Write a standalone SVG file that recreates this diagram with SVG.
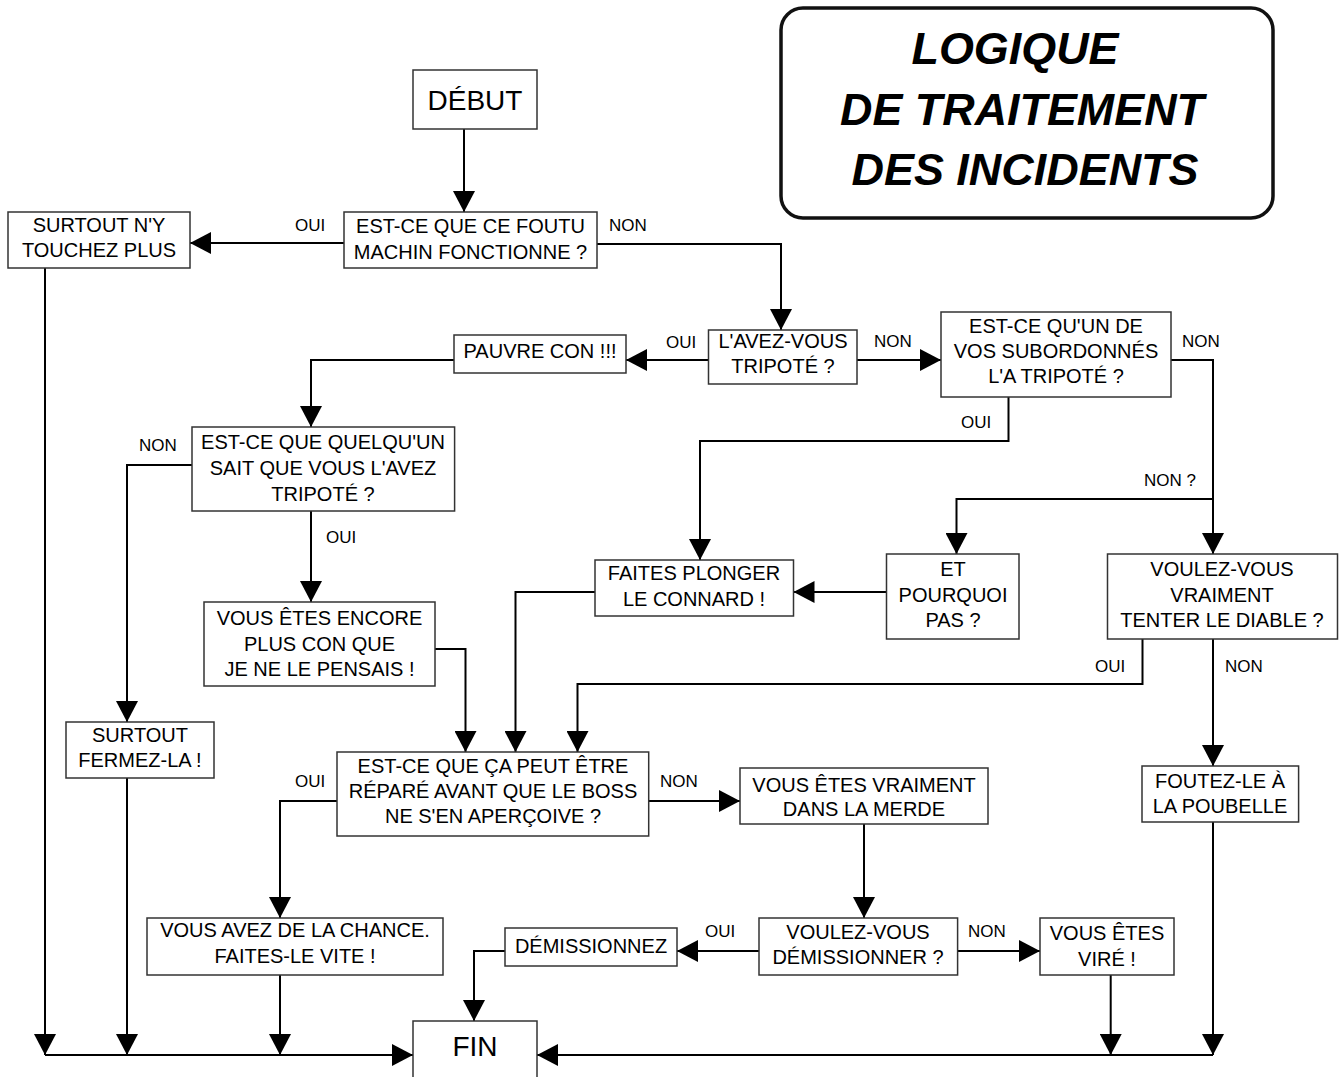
<svg xmlns="http://www.w3.org/2000/svg" width="1342" height="1077" viewBox="0 0 1342 1077">
<style>
text{font-family:"Liberation Sans",Arial,sans-serif;fill:#000}
.n{font-size:20px;text-anchor:middle}
.big{font-size:28px;text-anchor:middle}
.lb{font-size:17px}
.t{font-size:44px;font-weight:bold;font-style:italic;text-anchor:middle}
rect.b{fill:#fff;stroke:#333;stroke-width:1.5}
.c path{fill:none;stroke:#000;stroke-width:2;marker-end:url(#ah)}
</style>
<defs>
<marker id="ah" markerUnits="userSpaceOnUse" markerWidth="22" markerHeight="22" refX="21" refY="11" orient="auto">
<path d="M0,0 L21,11 L0,22 z" fill="#000"/>
</marker>
</defs>
<rect width="1342" height="1077" fill="#fff"/>

<g id="title">
<rect x="781" y="8" width="492" height="210" rx="22" ry="22" fill="#fff" stroke="#111" stroke-width="3.5"/>
<text class="t" x="1015" y="64" textLength="207" lengthAdjust="spacingAndGlyphs">LOGIQUE</text>
<text class="t" x="1022" y="125" textLength="364" lengthAdjust="spacingAndGlyphs">DE TRAITEMENT</text>
<text class="t" x="1025" y="185" textLength="347" lengthAdjust="spacingAndGlyphs">DES INCIDENTS</text>
</g>

<g class="c" id="connectors">
<path d="M464,129 V212"/>
<path d="M344,243 H190"/>
<path d="M597,244 H781 V330"/>
<path d="M708.5,360 H626"/>
<path d="M857,360 H941"/>
<path d="M454,360 H311 V427"/>
<path d="M1171,360 H1213 V554"/>
<path d="M1213,499 H956.5 V554"/>
<path d="M1008.5,397 V441 H700 V560"/>
<path d="M886.5,592 H793.5"/>
<path d="M595,592 H515.5 V752"/>
<path d="M435,649 H465.5 V752"/>
<path d="M1142.5,639 V684 H577.5 V752"/>
<path d="M1213,639 V766"/>
<path d="M192,465 H127 V722"/>
<path d="M311,511 V602"/>
<path d="M337,801 H280 V918"/>
<path d="M648.7,801 H740"/>
<path d="M864,824 V918"/>
<path d="M759,951 H677"/>
<path d="M957.6,951 H1040"/>
<path d="M505,951 H474 V1021"/>
<path d="M45,268 V1055"/>
<path d="M127,778 V1055"/>
<path d="M280,975 V1055"/>
<path d="M45,1055 H413"/>
<path d="M1110.7,975 V1055"/>
<path d="M1213,822 V1055"/>
<path d="M1213,1055 H537"/>
</g>

<g id="labels">
<text class="lb" x="295" y="231">OUI</text>
<text class="lb" x="609" y="231">NON</text>
<text class="lb" x="666" y="348">OUI</text>
<text class="lb" x="874" y="347">NON</text>
<text class="lb" x="1182" y="347">NON</text>
<text class="lb" x="961" y="428">OUI</text>
<text class="lb" x="1144" y="486">NON ?</text>
<text class="lb" x="139" y="451">NON</text>
<text class="lb" x="326" y="543">OUI</text>
<text class="lb" x="1095" y="672">OUI</text>
<text class="lb" x="1225" y="672">NON</text>
<text class="lb" x="295" y="787">OUI</text>
<text class="lb" x="660" y="787">NON</text>
<text class="lb" x="705" y="937">OUI</text>
<text class="lb" x="968" y="937">NON</text>
</g>

<g id="debut">
<rect class="b" x="413" y="70" width="124" height="59"/>
<text class="big" x="475" y="110">DÉBUT</text>
</g>
<g id="q_fonctionne">
<rect class="b" x="344" y="212" width="253" height="56"/>
<text class="n" x="470.5" y="233">EST-CE QUE CE FOUTU</text>
<text class="n" x="470.5" y="259">MACHIN FONCTIONNE ?</text>
</g>
<g id="surtout_ny">
<rect class="b" x="8" y="212" width="182" height="56"/>
<text class="n" x="99" y="232">SURTOUT N'Y</text>
<text class="n" x="99" y="257">TOUCHEZ PLUS</text>
</g>
<g id="pauvre_con">
<rect class="b" x="454" y="335" width="172" height="38"/>
<text class="n" x="540" y="358">PAUVRE CON !!!</text>
</g>
<g id="q_tripote">
<rect class="b" x="708.5" y="330" width="148.5" height="54"/>
<text class="n" x="783" y="348">L'AVEZ-VOUS</text>
<text class="n" x="783" y="373">TRIPOTÉ ?</text>
</g>
<g id="q_subordonnes">
<rect class="b" x="941" y="312" width="230" height="85"/>
<text class="n" x="1056" y="333">EST-CE QU'UN DE</text>
<text class="n" x="1056" y="358">VOS SUBORDONNÉS</text>
<text class="n" x="1056" y="383">L'A TRIPOTÉ ?</text>
</g>
<g id="q_quelquun">
<rect class="b" x="192" y="427" width="262.6" height="84"/>
<text class="n" x="323" y="449">EST-CE QUE QUELQU'UN</text>
<text class="n" x="323" y="475">SAIT QUE VOUS L'AVEZ</text>
<text class="n" x="323" y="501">TRIPOTÉ ?</text>
</g>
<g id="encore_plus_con">
<rect class="b" x="204" y="602" width="231" height="84"/>
<text class="n" x="319.5" y="625">VOUS ÊTES ENCORE</text>
<text class="n" x="319.5" y="651">PLUS CON QUE</text>
<text class="n" x="319.5" y="676">JE NE LE PENSAIS !</text>
</g>
<g id="faites_plonger">
<rect class="b" x="595" y="560" width="198.5" height="56"/>
<text class="n" x="694" y="580">FAITES PLONGER</text>
<text class="n" x="694" y="606">LE CONNARD !</text>
</g>
<g id="et_pourquoi">
<rect class="b" x="886.5" y="554" width="132.5" height="85"/>
<text class="n" x="953" y="576">ET</text>
<text class="n" x="953" y="602">POURQUOI</text>
<text class="n" x="953" y="627">PAS ?</text>
</g>
<g id="q_tenter_diable">
<rect class="b" x="1107.5" y="554" width="230" height="85"/>
<text class="n" x="1222" y="576">VOULEZ-VOUS</text>
<text class="n" x="1222" y="602">VRAIMENT</text>
<text class="n" x="1222" y="627">TENTER LE DIABLE ?</text>
</g>
<g id="surtout_fermez">
<rect class="b" x="66" y="722" width="148" height="56"/>
<text class="n" x="140" y="742">SURTOUT</text>
<text class="n" x="140" y="767">FERMEZ-LA !</text>
</g>
<g id="q_repare">
<rect class="b" x="337" y="752" width="311.7" height="84"/>
<text class="n" x="493" y="773">EST-CE QUE ÇA PEUT ÊTRE</text>
<text class="n" x="493" y="798">RÉPARÉ AVANT QUE LE BOSS</text>
<text class="n" x="493" y="823">NE S'EN APERÇOIVE ?</text>
</g>
<g id="dans_la_merde">
<rect class="b" x="740" y="768" width="248" height="56"/>
<text class="n" x="864" y="792">VOUS ÊTES VRAIMENT</text>
<text class="n" x="864" y="816">DANS LA MERDE</text>
</g>
<g id="poubelle">
<rect class="b" x="1142" y="766" width="156.6" height="56"/>
<text class="n" x="1220" y="788">FOUTEZ-LE À</text>
<text class="n" x="1220" y="813">LA POUBELLE</text>
</g>
<g id="chance">
<rect class="b" x="147" y="918" width="296" height="57"/>
<text class="n" x="295" y="937">VOUS AVEZ DE LA CHANCE.</text>
<text class="n" x="295" y="963">FAITES-LE VITE !</text>
</g>
<g id="demissionnez">
<rect class="b" x="505" y="928" width="172" height="38"/>
<text class="n" x="591" y="953">DÉMISSIONNEZ</text>
</g>
<g id="q_demissionner">
<rect class="b" x="759" y="918" width="198.6" height="57"/>
<text class="n" x="858" y="939">VOULEZ-VOUS</text>
<text class="n" x="858" y="964">DÉMISSIONNER ?</text>
</g>
<g id="vire">
<rect class="b" x="1040" y="918" width="134" height="57"/>
<text class="n" x="1107" y="940">VOUS ÊTES</text>
<text class="n" x="1107" y="966">VIRÉ !</text>
</g>
<g id="fin">
<rect class="b" x="413" y="1021" width="124" height="60"/>
<text class="big" x="475" y="1056">FIN</text>
</g>
</svg>
